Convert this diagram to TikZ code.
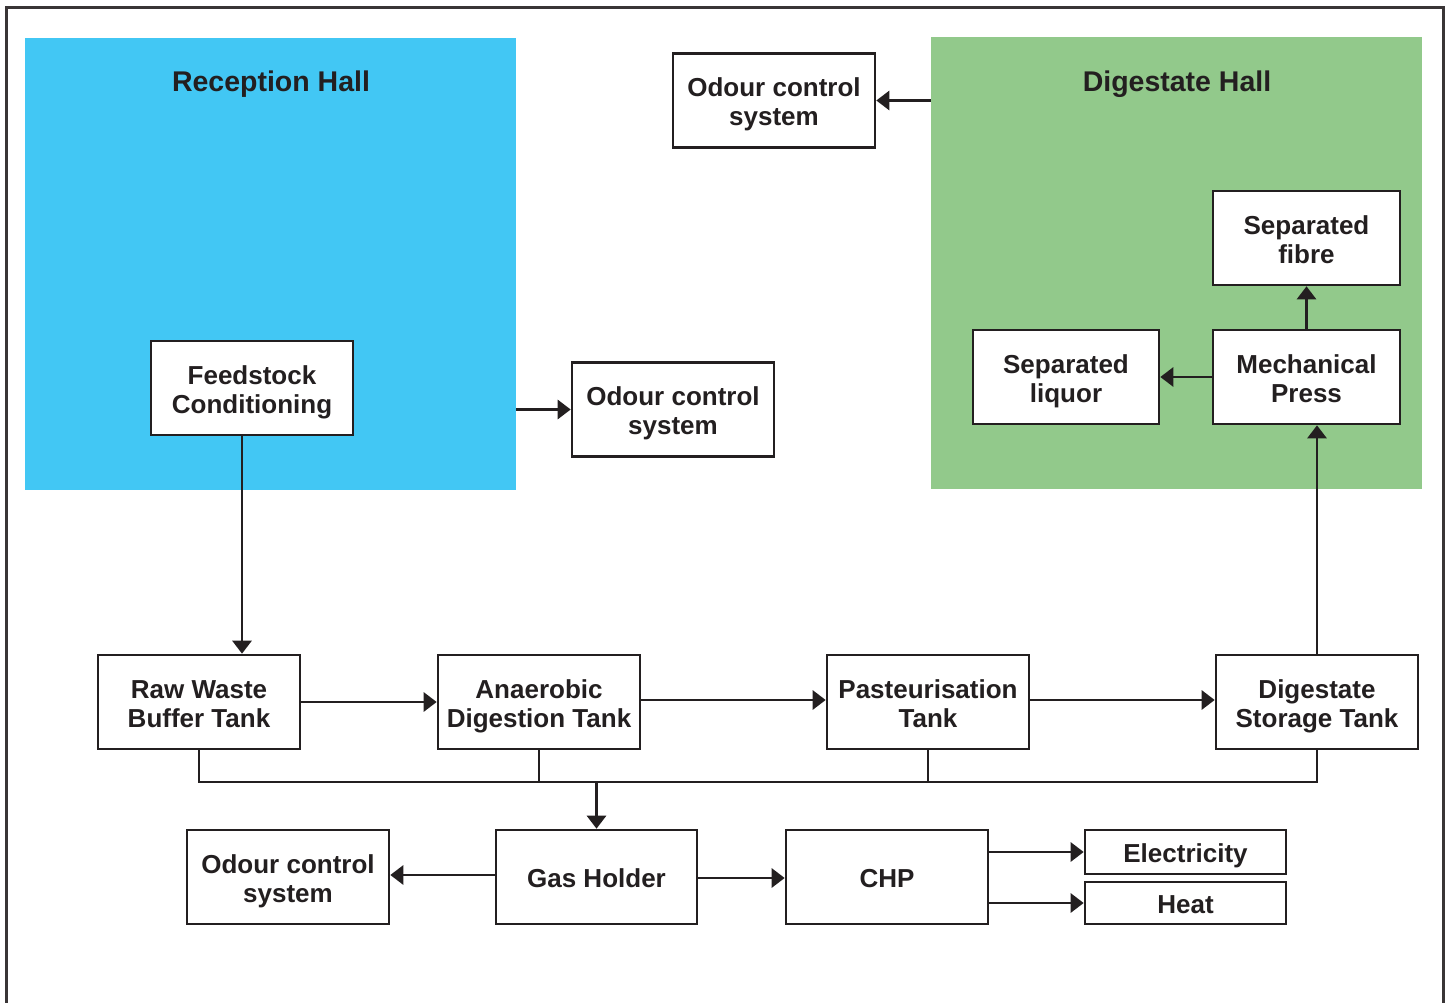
\documentclass[tikz,border=0pt]{standalone}
\usepackage{fontspec}
\setmainfont{Liberation Sans}
\usetikzlibrary{arrows.meta}
\definecolor{ink}{HTML}{231F20}
\definecolor{recblue}{HTML}{42C7F4}
\definecolor{diggreen}{HTML}{92C98B}
\newcommand{\bxt}[1]{\raisebox{-5pt}[\height][\depth]{\begin{tabular}{@{}c@{}}#1\end{tabular}}}
\tikzset{
  box/.style={draw=ink, line width=2.6pt, fill=white, text=ink,
    minimum width=202pt, minimum height=94pt, inner sep=0pt,
    font=\fontsize{26}{29}\selectfont\bfseries},
  hall/.style={draw=none, inner sep=0pt},
  hallttl/.style={text=ink, font=\fontsize{28.5}{32}\selectfont\bfseries},
  conn/.style={draw=ink, line width=2.8pt},
  arr/.style={conn, -{Triangle[length=13pt,width=19pt]}}
}
\begin{document}
\begin{tikzpicture}[x=1pt,y=-1pt]
\useasboundingbox (0,0) rectangle (1449,1003);
\fill[white] (0,0) rectangle (1449,1003);
\draw[draw=ink!90, line width=3pt] (6,1010) -- (6,8) -- (1443,8) -- (1443,1010);
% halls
\node[hall, fill=recblue, minimum width=491pt, minimum height=452pt] (reception) at (270.5,264) {};
\node[hall, fill=diggreen, minimum width=491pt, minimum height=452pt] (digestate) at (1176.5,263) {};
\node[hallttl] (rtitle) at (271,84) {Reception Hall};
\node[hallttl] (dtitle) at (1177,84) {Digestate Hall};
% boxes
\node[box] (odT) at (774,100.5) {\bxt{Odour control\\system}};
\node[box] (odM) at (673,409.5) {\bxt{Odour control\\system}};
\node[box] (feed) at (252,388) {\bxt{Feedstock\\Conditioning}};
\node[box, minimum width=187pt] (fibre) at (1306.5,238) {\bxt{Separated\\fibre}};
\node[box, minimum width=186pt] (liquor) at (1066,377) {\bxt{Separated\\liquor}};
\node[box, minimum width=187pt] (press) at (1306.5,377) {\bxt{Mechanical\\Press}};
\node[box] (raw) at (199,702) {\bxt{Raw Waste\\Buffer Tank}};
\node[box] (ad) at (539,702) {\bxt{Anaerobic\\Digestion Tank}};
\node[box] (past) at (928,702) {\bxt{Pasteurisation\\Tank}};
\node[box] (dst) at (1317,702) {\bxt{Digestate\\Storage Tank}};
\node[box, minimum width=201pt] (gas) at (596.5,877) {\bxt{Gas Holder}};
\node[box] (odB) at (288,877) {\bxt{Odour control\\system}};
\node[box] (chp) at (887,877) {\bxt{CHP}};
\node[box, minimum width=201pt, minimum height=44pt] (elec) at (1185.5,852) {\bxt{Electricity}};
\node[box, minimum width=201pt, minimum height=42pt] (heat) at (1185.5,903) {\bxt{Heat}};
\coordinate (busY) at (0,782);
% connectors
\draw[arr] (digestate.west |- odT) -- (odT.east);
\draw[arr] (reception.east |- odM) -- (odM.west);
\draw[arr] ([xshift=-10pt]feed.south) -- ([xshift=-10pt]feed.south |- raw.north);
\draw[arr] (raw.east) -- (ad.west);
\draw[arr] ([yshift=2pt]ad.east) -- ([yshift=2pt]ad.east -| past.west);
\draw[arr] ([yshift=2pt]past.east) -- ([yshift=2pt]past.east -| dst.west);
\draw[arr] (dst.north) -- (dst.north |- press.south);
\draw[arr] (press.west) -- (liquor.east);
\draw[arr] (press.north) -- (fibre.south);
\draw[conn] (raw.south) -- (raw.south |- busY) -- (dst.south |- busY) -- (dst.south);
\draw[conn] (ad.south) -- (ad.south |- busY);
\draw[conn] (past.south) -- (past.south |- busY);
\draw[arr] (gas.north |- busY) -- (gas.north);
\draw[arr] ([yshift=2pt]gas.west) -- ([yshift=2pt]gas.west -| odB.east);
\draw[arr] ([yshift=-1pt]gas.east) -- ([yshift=-1pt]gas.east -| chp.west);
\draw[arr] (chp.east |- elec) -- (elec.west);
\draw[arr] (chp.east |- heat) -- (heat.west);
\end{tikzpicture}
\end{document}
